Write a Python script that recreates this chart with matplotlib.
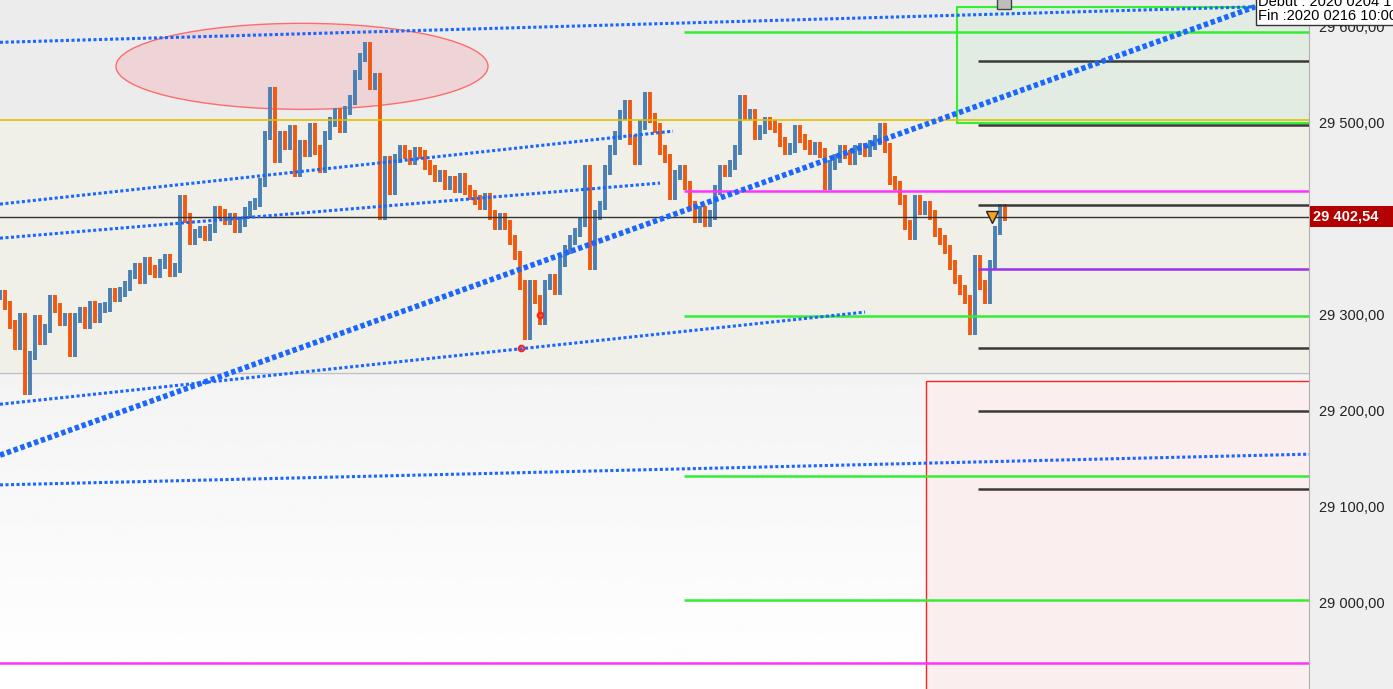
import numpy as np
import matplotlib
matplotlib.use('Agg')
import matplotlib.pyplot as plt
from matplotlib.patches import Ellipse, Rectangle
from matplotlib.ticker import FuncFormatter

plt.rcParams['font.family'] = ['Liberation Sans', 'DejaVu Sans']

# --- price data: one close per bar ---
closes = [
    29321, 29310, 29290, 29269, 29297, 29222, 29258, 29295, 29274, 29286,
    29316, 29307, 29293, 29297, 29261, 29297, 29303, 29290, 29310, 29297,
    29307, 29308, 29323, 29318, 29324, 29330, 29342, 29349, 29337, 29355,
    29347, 29343, 29353, 29359, 29345, 29349, 29420, 29401, 29378, 29385,
    29388, 29382, 29390, 29409, 29405, 29399, 29401, 29390, 29397, 29407,
    29414, 29417, 29438, 29487, 29532, 29463, 29487, 29477, 29493, 29449,
    29477, 29470, 29495, 29472, 29453, 29487, 29501, 29511, 29495, 29513,
    29524, 29550, 29568, 29579, 29539, 29547, 29404, 29461, 29430, 29463,
    29472, 29467, 29461, 29470, 29467, 29456, 29451, 29443, 29446, 29435,
    29440, 29432, 29443, 29430, 29425, 29420, 29414, 29422, 29404, 29394,
    29401, 29394, 29378, 29362, 29331, 29279, 29331, 29316, 29295, 29331,
    29338, 29326, 29355, 29368, 29378, 29386, 29397, 29451, 29352, 29404,
    29414, 29451, 29472, 29487, 29508, 29519, 29482, 29461, 29498, 29527,
    29505, 29495, 29472, 29463, 29425, 29446, 29451, 29435, 29414, 29401,
    29409, 29397, 29404, 29430, 29451, 29449, 29456, 29472, 29524, 29508,
    29510, 29487, 29493, 29501, 29498, 29495, 29480, 29472, 29474, 29493,
    29484, 29477, 29472, 29475, 29469, 29435, 29456, 29463, 29472, 29467,
    29461, 29472, 29474, 29470, 29477, 29482, 29495, 29474, 29440, 29435,
    29420, 29394, 29383, 29420, 29409, 29414, 29404, 29386, 29378, 29368,
    29352, 29337, 29326, 29316, 29284, 29357, 29331, 29316, 29352, 29388,
    29411, 29402.54,
]
last_price = 29402.54

# --- levels ---
yellow_level = 29503
zone_split = 29240
magenta_low = 28937.5
green_levels = [29595, 29299, 29132, 29003]
magenta_levels = [29429]
dark_levels = [29565, 29498, 29415, 29266, 29200, 29119]
purple_levels = [29348]
green_start = 136.8   # bar index where the green / magenta levels start
dark_start = 195.6    # bar index where the dark / purple levels start

# axis labels (29 400 sits under the last price tag)
tick_values = [29000, 29100, 29200, 29300, 29500, 29600]

# --- trend lines (bar index, price) ---
thin_trends = [
    ((0, 29584), (251, 29621)),
    ((0, 29415.5), (134.6, 29491.5)),
    ((0, 29380), (132, 29437.4)),
    ((0, 29207), (173, 29303)),
    ((0, 29123), (261.8, 29155)),
]
thick_trend = ((0, 29154), (251, 29621))

x_max = 261.8
y_min, y_max = 28910.4, 29628.1

fig = plt.figure(figsize=(13.93, 6.89), dpi=100, facecolor='#efefef')
ax = fig.add_axes([0, 0, 1309 / 1393, 1])
ax.set_xlim(0, x_max)
ax.set_ylim(y_min, y_max)

# backgrounds
ax.axhspan(yellow_level, y_max, color='#ececec', zorder=0, lw=0)
ax.axhspan(zone_split, yellow_level, color='#f1f0e8', zorder=0, lw=0)
grad = np.linspace(0.955, 1.0, 200).reshape(-1, 1)
ax.imshow(grad, extent=[0, x_max, y_min, zone_split], aspect='auto',
          cmap='gray', vmin=0, vmax=1, zorder=0, origin='upper')
ax.axhline(zone_split, color='#c0c0c0', lw=1, zorder=1)

# zones
ax.add_patch(Ellipse((60.4, 29559), 74.4, 89.6, facecolor='#f0d2d5', edgecolor='#ff6060',
                     lw=1, alpha=0.9, zorder=1))
ax.add_patch(Rectangle((191.4, 29500), 80, 120.8, facecolor='#e2ece2', edgecolor='#33ee33',
                       lw=1.5, zorder=1))
ax.add_patch(Rectangle((185.2, y_min - 10), 80, 29231 - y_min + 10, facecolor='#fbeeee',
                       edgecolor='#ff2020', lw=1, zorder=1))

# bars
x = np.arange(len(closes))
opens = [closes[0]] + closes[:-1]
wick = 5
for i in x:
    o, c = opens[i], closes[i]
    col = '#4a80b4' if c >= o else '#f05a10'
    ax.vlines(i, min(o, c) - wick, max(o, c) + wick, color=col, lw=2.8, zorder=3)

# horizontal levels
ax.axhline(yellow_level, color='#e0c000', lw=1.2, zorder=4)
ax.axhline(last_price, color='#333333', lw=1, zorder=4)
ax.axhline(magenta_low, color='#ff33ff', lw=1.8, zorder=4)
ax.hlines(green_levels, green_start, x_max, color='#33ee33', lw=1.8, zorder=4)
ax.hlines(magenta_levels, green_start, x_max, color='#ff33ff', lw=1.8, zorder=4)
ax.hlines(dark_levels, dark_start, x_max, color='#3a3a3a', lw=1.8, zorder=4)
ax.hlines(purple_levels, dark_start, x_max, color='#9933ee', lw=1.8, zorder=4)

# trend lines
for (x0, p0), (x1, p1) in thin_trends:
    ax.plot([x0, x1], [p0, p1], color='#1a66ff', lw=2.2, ls=(0, (1, 0.8)), zorder=5)
(x0, p0), (x1, p1) = thick_trend
ax.plot([x0, x1], [p0, p1], color='#1a66ff', lw=4, ls=(0, (0.8, 0.5)), zorder=5)

# markers
ax.plot([104.2, 108], [29265.5, 29300], 'o', ms=4, mfc='none', mec='#ff2020', mew=1.5, zorder=6)
ax.plot(198.4, last_price, 'v', ms=9, mfc='#f5a020', mec='#222222', mew=1, zorder=6)
ax.plot(200.7, 29626, 's', ms=10, mfc='#bdbdbd', mec='#444444', mew=1, zorder=6)

# axis styling
for s in ['top', 'left', 'bottom']:
    ax.spines[s].set_visible(False)
ax.spines['right'].set_color('#b0b0b0')
ax.set_xticks([])
ax.yaxis.tick_right()
ax.set_yticks(tick_values)
ax.yaxis.set_major_formatter(FuncFormatter(lambda v, p: f"{int(v):,}".replace(',', ' ') + ',00'))
ax.tick_params(axis='y', length=0, pad=7, labelsize=10.5, labelcolor='#222222')

# last price label
fig.patches.append(Rectangle((1310 / 1393, 1 - 227 / 689), 83 / 1393, 21 / 689,
                             transform=fig.transFigure, facecolor='#b30000', edgecolor='none',
                             zorder=10))
fig.text(1313 / 1393, 1 - 216.5 / 689, '29 402,54', color='white', fontweight='bold',
         fontsize=10.5, va='center', ha='left', zorder=11)

# info box (cut by the right edge, as in the original)
fig.text(1258 / 1393, 1 - 23 / 689, 'Debut : 2020 0204 17:00:00\nFin :2020 0216 10:00:00',
         fontsize=10.5, va='bottom', ha='left', linespacing=1.0, zorder=11,
         bbox=dict(boxstyle='square,pad=0.12', fc='white', ec='#333333', lw=1))

fig.savefig('out.png', dpi=100, facecolor=fig.get_facecolor())
